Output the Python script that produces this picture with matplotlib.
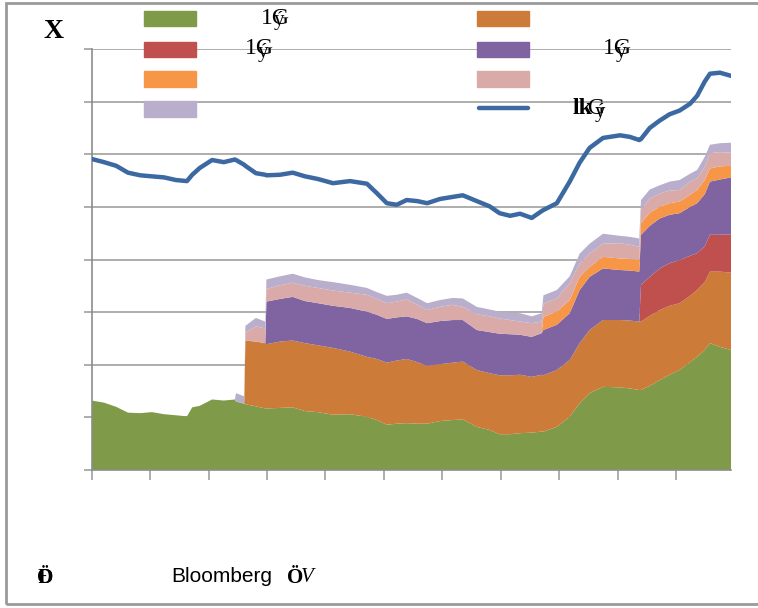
import matplotlib
matplotlib.use('Agg')
import matplotlib.pyplot as plt
from matplotlib.patches import Rectangle
from matplotlib.lines import Line2D

# x positions (tick units), stacked series bottom -> top, plus the line
x = [0.0, 0.21, 0.42, 0.62, 0.83, 1.03, 1.24, 1.44, 1.63, 1.72, 1.85, 2.06, 2.26, 2.45, 2.47, 2.61,
     2.63, 2.81, 2.97, 2.99, 3.22, 3.44, 3.65, 3.87, 4.13, 4.42, 4.71, 4.88, 5.05, 5.22, 5.39, 5.57,
     5.74, 5.96, 6.18, 6.35, 6.59, 6.81, 6.98, 7.16, 7.33, 7.53, 7.70, 7.73, 7.96, 8.18, 8.35, 8.52,
     8.75, 9.04, 9.21, 9.37, 9.40, 9.55, 9.72, 9.89, 10.06, 10.24, 10.36, 10.49, 10.58, 10.75, 10.94]

green = [1.32, 1.28, 1.20, 1.09, 1.08, 1.10, 1.06, 1.04, 1.02, 1.19, 1.22, 1.34, 1.32, 1.34, 1.30, 1.26,
         1.25, 1.21, 1.17, 1.17, 1.18, 1.19, 1.12, 1.10, 1.05, 1.06, 1.01, 0.95, 0.86, 0.88, 0.89, 0.88,
         0.88, 0.93, 0.95, 0.96, 0.82, 0.76, 0.68, 0.68, 0.70, 0.71, 0.73, 0.73, 0.82, 1.01, 1.27, 1.46,
         1.58, 1.57, 1.55, 1.52, 1.52, 1.60, 1.71, 1.81, 1.90, 2.05, 2.15, 2.28, 2.41, 2.34, 2.28]

orange = [0] * 16 + [
          1.21, 1.23, 1.24, 1.22, 1.26, 1.27, 1.29, 1.27, 1.27, 1.19, 1.14, 1.16, 1.18, 1.20, 1.22, 1.17,
          1.10, 1.08, 1.09, 1.10, 1.08, 1.08, 1.12, 1.12, 1.11, 1.06, 1.08, 1.07, 1.08, 1.08, 1.14, 1.20,
          1.27, 1.28, 1.29, 1.30, 1.30, 1.33, 1.33, 1.31, 1.27, 1.26, 1.27, 1.29, 1.36, 1.43, 1.47]

red = [0] * 52 + [0.70, 0.74, 0.79, 0.81, 0.82, 0.76, 0.70, 0.68, 0.70, 0.70, 0.73]

purple = [0] * 19 + [
          0.81, 0.81, 0.83, 0.80, 0.80, 0.80, 0.83, 0.86, 0.84, 0.83, 0.82, 0.81, 0.82, 0.81, 0.82, 0.81,
          0.79, 0.76, 0.78, 0.79, 0.78, 0.76, 0.76, 0.79, 0.86, 0.86, 0.89, 1.01, 1.01, 0.98, 0.95, 0.95,
          0.95, 0.95, 0.97, 0.95, 0.92, 0.89, 0.93, 0.95, 0.99, 1.01, 1.05, 1.08]

lightorange = [0] * 43 + [
               0.25, 0.25, 0.25, 0.25, 0.19, 0.22, 0.22, 0.22, 0.22, 0.22, 0.25, 0.22, 0.22, 0.22, 0.23, 0.25,
               0.27, 0.25, 0.25, 0.22]

pink = [0] * 16 + [
        0.15, 0.29, 0.28, 0.24, 0.26, 0.27, 0.29, 0.29, 0.29, 0.29, 0.32, 0.30, 0.30, 0.30, 0.32, 0.27,
        0.25, 0.27, 0.29, 0.25, 0.30, 0.30, 0.29, 0.27, 0.25, 0.26, 0.22, 0.25, 0.25, 0.32, 0.25, 0.25,
        0.25, 0.29, 0.27, 0.25, 0.25, 0.27, 0.25, 0.24, 0.22, 0.25, 0.22, 0.25, 0.29, 0.27, 0.25]

lavender = [0] * 14 + [
            0.16, 0.14, 0.13, 0.16, 0.13, 0.18, 0.17, 0.17, 0.16, 0.15, 0.16, 0.15, 0.13, 0.13, 0.14, 0.13,
            0.13, 0.13, 0.13, 0.13, 0.13, 0.16, 0.14, 0.13, 0.13, 0.14, 0.16, 0.13, 0.16, 0.16, 0.16, 0.13,
            0.19, 0.19, 0.19, 0.14, 0.15, 0.16, 0.19, 0.17, 0.16, 0.17, 0.19, 0.15, 0.16, 0.19, 0.16, 0.17,
            0.19]

line = [5.91, 5.85, 5.78, 5.65, 5.60, 5.58, 5.56, 5.51, 5.49, 5.61, 5.74, 5.89, 5.85, 5.90, 5.89, 5.80,
        5.78, 5.64, 5.61, 5.60, 5.61, 5.65, 5.58, 5.53, 5.45, 5.49, 5.44, 5.26, 5.07, 5.04, 5.13, 5.11,
        5.07, 5.15, 5.19, 5.22, 5.11, 5.01, 4.88, 4.83, 4.87, 4.79, 4.92, 4.94, 5.07, 5.48, 5.84, 6.12,
        6.31, 6.36, 6.33, 6.27, 6.29, 6.50, 6.64, 6.76, 6.83, 6.96, 7.11, 7.38, 7.53, 7.55, 7.49]

colors = ['#7F9A48', '#CC7B38', '#C0504D', '#8064A2', '#F79646', '#DAAAA9', '#B9AFCC']
line_color = '#3C69A1'
grey = '#A0A0A0'

W, H = 758, 608
fig = plt.figure(figsize=(W / 100, H / 100), dpi=100)


def fx(px):
    return px / W


def fy(py):
    return 1 - py / H


# outer frame
fig.add_artist(Rectangle((fx(6), fy(604)), 1.2, fy(3) - fy(604), transform=fig.transFigure,
                         fill=False, edgecolor='#9A9A9A', linewidth=2))

ax = fig.add_axes([fx(91.7), fy(470), fx(731) - fx(91.7), fy(49) - fy(470)])
ax.stackplot(x, green, orange, red, purple, lightorange, pink, lavender, colors=colors, linewidth=0)
ax.plot(x, line, color=line_color, linewidth=3.2, solid_joinstyle='round', solid_capstyle='round', zorder=5)

ax.set_xlim(0, 10.94)
ax.set_ylim(0, 8)
ax.set_xticks(range(11))
ax.set_yticks(range(9))
ax.set_xticklabels([])
ax.set_yticklabels([])
ax.grid(axis='y', color=grey, linewidth=1.2)
ax.set_axisbelow(True)
ax.tick_params(axis='both', direction='out', length=6, width=1.2, color=grey)
ax.tick_params(axis='x', length=7)
for s in ['top', 'right']:
    ax.spines[s].set_visible(False)
for s in ['left', 'bottom']:
    ax.spines[s].set_color('#8C8C8C')
    ax.spines[s].set_linewidth(1.2)
ax.patch.set_alpha(0)

# legend drawn by hand, two columns
rows = [18.5, 49.3, 79, 109]
left_cols = [colors[0], colors[2], colors[4], colors[6]]
right_cols = [colors[1], colors[3], colors[5]]
for c, r in zip(left_cols, rows):
    fig.add_artist(Rectangle((fx(144), fy(r + 7.5)), fx(196) - fx(144), fy(r - 7.5) - fy(r + 7.5),
                             transform=fig.transFigure, color=c))
for c, r in zip(right_cols, rows[:3]):
    fig.add_artist(Rectangle((fx(477), fy(r + 7.5)), fx(529) - fx(477), fy(r - 7.5) - fy(r + 7.5),
                             transform=fig.transFigure, color=c))
fig.add_artist(Line2D([fx(479), fx(528)], [fy(108), fy(108)], transform=fig.transFigure,
                      color=line_color, linewidth=3.2, solid_capstyle='round'))

serif = 'Liberation Serif'


def garbled(px, py, s):
    fig.text(fx(px), fy(py), s, family=serif, fontsize=17, va='center', ha='left')
    fig.text(fx(px + 13), fy(py + 3), 'ý', family=serif, fontsize=15, va='center', ha='left')


garbled(261, 18, '1G')
garbled(245, 49, '1G')
garbled(603, 49, '1G')
fig.text(fx(573), fy(109), 'lk', family=serif, fontsize=17, va='center', ha='left', weight='bold')
garbled(582, 109, ' G')

fig.text(fx(44), fy(31), 'X', family=serif, fontsize=20, weight='bold', va='center', ha='left')

# source line
fig.text(fx(37), fy(578), 'Ö', family=serif, fontsize=15, weight='bold', va='center', ha='left')
fig.text(fx(38), fy(578), 'Ð', family=serif, fontsize=15, weight='bold', va='center', ha='left')
fig.text(fx(171), fy(577), 'Bloomberg', family='Liberation Sans', fontsize=15, va='center', ha='left')
fig.text(fx(287), fy(578), 'Ö', family=serif, fontsize=15, weight='bold', va='center', ha='left')
fig.text(fx(301), fy(578), 'V', family=serif, fontsize=15, style='italic', va='center', ha='left')

fig.savefig('out.png', dpi=100)
